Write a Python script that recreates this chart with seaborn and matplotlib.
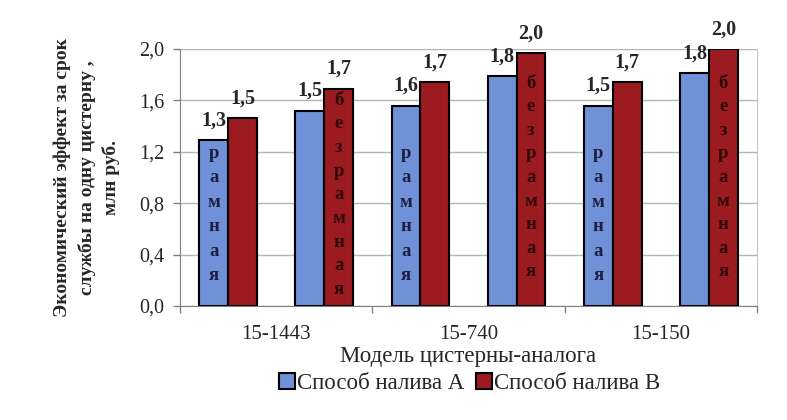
import numpy as np
import pandas as pd
import matplotlib
matplotlib.use("Agg")
import matplotlib.pyplot as plt
import seaborn as sns

sns.set_style("white")
plt.rcParams["font.family"] = ["Liberation Serif", "DejaVu Serif"]

# data
models = ["15-1443", "15-740", "15-150"]
frame_types = ["рамная", "безрамная"]
methods = ["Способ налива А", "Способ налива В"]
values_a = [1.29, 1.52, 1.56, 1.79, 1.56, 1.81]
values_b = [1.46, 1.69, 1.74, 1.97, 1.74, 2.00]
labels_a = ["1,3", "1,5", "1,6", "1,8", "1,5", "1,8"]
labels_b = ["1,5", "1,7", "1,7", "2,0", "1,7", "2,0"]

blue = "#7090d8"
red = "#9c1b21"

positions = [f"{m} {f}" for m in models for f in frame_types]
df = pd.DataFrame({
    "pos": positions * 2,
    "method": [methods[0]] * len(positions) + [methods[1]] * len(positions),
    "value": values_a + values_b,
})

fig = plt.figure(figsize=(7.87, 4.2), dpi=100)
ax = fig.add_axes([0.2287, 0.2714, 0.7332, 0.612])

sns.barplot(data=df, x="pos", y="value", hue="method", palette=[blue, red],
            width=0.6, saturation=1, edgecolor="black", linewidth=1.5, ax=ax)

ax.set_xlim(-0.5, len(positions) - 0.5)
ax.set_ylim(0, 2.0)
yt = np.arange(0, 2.01, 0.4)
ax.set_yticks(yt)
ax.set_yticklabels([f"{v:.1f}".replace(".", ",") for v in yt], fontsize=14.5)
ax.tick_params(axis="y", length=5, width=1, color="#808080", pad=6, left=True)

# model labels in the middle of each pair, separators as minor ticks
ax.set_xticks([0.5, 2.5, 4.5])
ax.set_xticklabels(models, fontsize=15)
ax.set_xticks([-0.5, 1.5, 3.5, 5.5], minor=True)
ax.tick_params(axis="x", which="major", length=0, pad=14)
ax.tick_params(axis="x", which="minor", length=5, width=1, color="#808080", bottom=True)

ax.yaxis.grid(True, color="#b5b5b5", linewidth=1)
ax.set_axisbelow(True)
for side in ["left", "bottom"]:
    ax.spines[side].set_color("#808080")
ax.spines["right"].set_color("#c8c8c8")
ax.spines["top"].set_visible(False)

ax.set_xlabel("Модель цистерны-аналога", fontsize=16.5, labelpad=1)
ax.set_ylabel("Экономический эффект за срок\nслужбы на одну цистерну ,\nмлн руб.",
              fontsize=14, fontweight="bold", linespacing=1.45)
ax.yaxis.set_label_coords(-0.104, 0.5)

# value labels above bars
for cont, labels in zip(ax.containers, [labels_a, labels_b]):
    for bar, lab in zip(cont, labels):
        ax.annotate(lab, (bar.get_x() + bar.get_width() / 2, bar.get_height()),
                    xytext=(0, 7), textcoords="offset points",
                    ha="center", va="bottom", fontsize=14.5, fontweight="bold")

# vertical words inside the bars
for i, bar in enumerate(ax.containers[0]):
    if i % 2 == 0:
        xc = bar.get_x() + bar.get_width() / 2
        for k, ch in enumerate(frame_types[0]):
            ax.annotate(ch, (xc, 1.19), xytext=(0, -k * 17.7), textcoords="offset points",
                        ha="center", va="center", fontsize=13.5, fontweight="bold",
                        color="#1c2040")
for i, bar in enumerate(ax.containers[1]):
    if i % 2 == 1:
        xc = bar.get_x() + bar.get_width() / 2
        y0 = min(bar.get_height() - 0.09, 1.735)
        for k, ch in enumerate(frame_types[1]):
            ax.annotate(ch, (xc, y0), xytext=(0, -k * 17), textcoords="offset points",
                        ha="center", va="center", fontsize=13.5, fontweight="bold",
                        color="#2e0808")

handles, lbls = ax.get_legend_handles_labels()
ax.get_legend().remove()
fig.legend(handles, lbls, loc="center", bbox_to_anchor=(0.597, 0.088), ncol=2,
           frameon=False, fontsize=16.5, handlelength=0.7, handleheight=0.7,
           handletextpad=0.1, columnspacing=0.5)

fig.savefig("out.png", dpi=100)
